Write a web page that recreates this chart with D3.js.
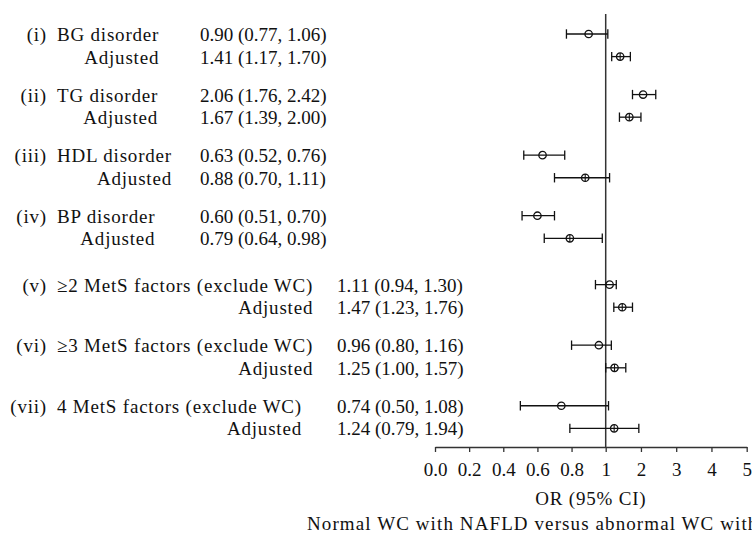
<!DOCTYPE html>
<html>
<head>
<meta charset="utf-8">
<script src="https://cdn.jsdelivr.net/npm/d3@7"></script>
<style>
  body { margin: 0; background: #fff; }
  text { font-family: "Liberation Serif", "DejaVu Serif", serif; fill: #111; }
  .lbl { letter-spacing: 0.8px; }
  .ttl { letter-spacing: 1.1px; }
</style>
</head>
<body>
<div id="chart"></div>
<script>
// Groups and their labels
const numerals = ["(i)", "(ii)", "(iii)", "(iv)", "(v)", "(vi)", "(vii)"];
const names = [
  "BG disorder",
  "TG disorder",
  "HDL disorder",
  "BP disorder",
  "\u22652 MetS factors (exclude WC)",
  "\u22653 MetS factors (exclude WC)",
  "4 MetS factors (exclude WC)"
];

// Crude odds ratios with 95% CI
const orCrude = [0.90, 2.06, 0.63, 0.60, 1.11, 0.96, 0.74];
const lowCrude = [0.77, 1.76, 0.52, 0.51, 0.94, 0.80, 0.50];
const highCrude = [1.06, 2.42, 0.76, 0.70, 1.30, 1.16, 1.08];

// Adjusted odds ratios with 95% CI
const orAdj = [1.41, 1.67, 0.88, 0.79, 1.47, 1.25, 1.24];
const lowAdj = [1.17, 1.39, 0.70, 0.64, 1.23, 1.00, 0.79];
const highAdj = [1.70, 2.00, 1.11, 0.98, 1.76, 1.57, 1.94];

// Axis ticks
const tickValues = [0, 0.2, 0.4, 0.6, 0.8, 1, 2, 3, 4, 5];
const tickLabels = ["0.0", "0.2", "0.4", "0.6", "0.8", "1", "2", "3", "4", "5"];

const W = 752, H = 537;
const fontSize = 19;

const svg = d3.select("#chart")
  .append("svg")
  .attr("width", W)
  .attr("height", H);

// x: linear 0..1 stretched, 1..5 compressed
const x = d3.scaleLinear()
  .domain([0, 1, 5])
  .range([435, 605.7, 746.7]);

// y: slot units -> pixels (pairs of rows, bigger gap before group v)
const slot = (g, r) => g * 2.68 + r + (g >= 4 ? 0.37 : 0);
const y = d3.scaleLinear()
  .domain([0, 1])
  .range([34, 56.6]);

const axisY = 447;

// rows: one crude and one adjusted per group
const rows = [];
numerals.forEach((n, g) => {
  rows.push({ g, r: 0, or: orCrude[g], lo: lowCrude[g], hi: highCrude[g], adj: false });
  rows.push({ g, r: 1, or: orAdj[g], lo: lowAdj[g], hi: highAdj[g], adj: true });
});

// reference line at OR = 1
svg.append("line")
  .attr("x1", x(1)).attr("x2", x(1))
  .attr("y1", 14).attr("y2", axisY)
  .attr("stroke", "#333")
  .attr("stroke-width", 1.5);

// axis
const axis = svg.append("g")
  .attr("transform", `translate(0,${axisY})`)
  .call(d3.axisBottom(x)
    .tickValues(tickValues)
    .tickFormat((d, i) => tickLabels[i])
    .tickSize(5)
    .tickSizeOuter(0)
    .tickPadding(11));
axis.select(".domain").attr("stroke", "#333").attr("stroke-width", 1.5);
axis.selectAll(".tick line").attr("stroke", "#333").attr("stroke-width", 1.3);
axis.selectAll(".tick text")
  .attr("font-size", fontSize)
  .attr("fill", "#111")
  .style("font-family", "Liberation Serif, serif");

// axis titles
svg.append("text")
  .attr("class", "lbl")
  .attr("x", (x(0) + x(5)) / 2)
  .attr("y", 505)
  .attr("text-anchor", "middle")
  .attr("font-size", fontSize)
  .text("OR (95% CI)");

svg.append("text")
  .attr("class", "ttl")
  .attr("x", 307)
  .attr("y", 530)
  .attr("font-size", fontSize)
  .text("Normal WC with NAFLD versus abnormal WC without NAFLD");

// error bars
const bars = svg.selectAll(".row")
  .data(rows)
  .enter()
  .append("g")
  .attr("class", "row")
  .attr("transform", d => `translate(0,${y(slot(d.g, d.r))})`);

bars.append("line")
  .attr("x1", d => x(d.lo)).attr("x2", d => x(d.hi))
  .attr("stroke", "#111").attr("stroke-width", 1.3);

bars.selectAll(".cap")
  .data(d => [d.lo, d.hi])
  .enter()
  .append("line")
  .attr("x1", v => x(v)).attr("x2", v => x(v))
  .attr("y1", -4.7).attr("y2", 4.7)
  .attr("stroke", "#111").attr("stroke-width", 1.3);

bars.append("circle")
  .attr("cx", d => x(d.or))
  .attr("r", 3.7)
  .attr("fill", "none")
  .attr("stroke", "#111")
  .attr("stroke-width", 1.3);

bars.filter(d => d.adj)
  .append("line")
  .attr("x1", d => x(d.or)).attr("x2", d => x(d.or))
  .attr("y1", -3.7).attr("y2", 3.7)
  .attr("stroke", "#111").attr("stroke-width", 1.1);

// labels
const fmt = d3.format(".2f");
const nameX = 57;
const numX = 47;

numerals.forEach((n, g) => {
  const y0 = y(slot(g, 0)) + 7;
  const y1 = y(slot(g, 1)) + 7;
  svg.append("text")
    .attr("class", "lbl")
    .attr("x", numX).attr("y", y0)
    .attr("text-anchor", "end")
    .attr("font-size", fontSize)
    .text(n);
  const nameText = svg.append("text")
    .attr("class", "lbl")
    .attr("x", nameX).attr("y", y0)
    .attr("font-size", fontSize)
    .text(names[g]);
  const nameEnd = nameX + nameText.node().getComputedTextLength();
  svg.append("text")
    .attr("class", "lbl")
    .attr("x", nameEnd).attr("y", y1)
    .attr("text-anchor", "end")
    .attr("font-size", fontSize)
    .text("Adjusted");

  const valX = g < 4 ? 200 : 337;
  svg.append("text")
    .attr("x", valX).attr("y", y0)
    .attr("font-size", fontSize)
    .text(`${fmt(orCrude[g])} (${fmt(lowCrude[g])}, ${fmt(highCrude[g])})`);
  svg.append("text")
    .attr("x", valX).attr("y", y1)
    .attr("font-size", fontSize)
    .text(`${fmt(orAdj[g])} (${fmt(lowAdj[g])}, ${fmt(highAdj[g])})`);
});
</script>
</body>
</html>
